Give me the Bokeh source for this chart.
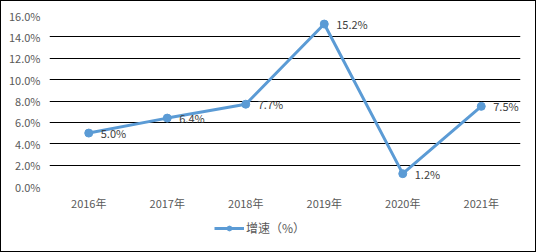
from bokeh.plotting import figure
from bokeh.layouts import column
from bokeh.models import Range1d, FactorRange, Legend, LegendItem, ColumnDataSource, LabelSet, FixedTicker, CustomJSTickFormatter
from bokeh.embed import file_html
from bokeh.resources import INLINE
from bokeh.core.properties import value

years = ["2016年", "2017年", "2018年", "2019年", "2020年", "2021年"]
growth = [5.0, 6.4, 7.7, 15.2, 1.2, 7.5]
y_ticks = [0, 2, 4, 6, 8, 10, 12, 14, 16]
series_name = "增速（%）"

FONT = "Noto Sans CJK SC"
COLOR = "#5B9BD5"

src = ColumnDataSource(dict(x=years, y=growth, lab=[f"{v:.1f}%" for v in growth]))

# main chart
p = figure(width=534, height=212, x_range=FactorRange(*years), y_range=Range1d(0, 16),
           output_backend="svg", toolbar_location=None,
           min_border_left=48, min_border_right=15, min_border_top=14, min_border_bottom=26)
p.outline_line_color = None
p.background_fill_color = "white"
p.border_fill_color = "white"

p.xgrid.grid_line_color = None
p.ygrid.grid_line_color = "#000000"
p.ygrid.grid_line_width = 1
p.yaxis.ticker = FixedTicker(ticks=y_ticks)
p.yaxis.formatter = CustomJSTickFormatter(code="return tick.toFixed(1) + '%';")
for ax in (p.xaxis, p.yaxis):
    ax.axis_line_color = None
    ax.major_tick_line_color = None
    ax.minor_tick_line_color = None
    ax.major_tick_out = 0
    ax.major_tick_in = 0
    ax.minor_tick_out = 0
    ax.major_label_text_font = FONT
    ax.major_label_text_font_size = "11px"
    ax.major_label_text_color = "#595959"
p.yaxis.major_label_standoff = 9
p.xaxis.major_label_standoff = 8

p.line("x", "y", source=src, line_color=COLOR, line_width=3)
p.scatter("x", "y", source=src, size=8, fill_color=COLOR, line_color=COLOR)

labels = LabelSet(x="x", y="y", text="lab", source=src, x_offset=12, y_offset=0,
                  text_font=value(FONT), text_font_size="11px", text_color="#404040",
                  text_baseline="middle", text_align="left")
p.add_layout(labels)

# legend strip (same series, drawn off-range so only the legend key shows)
q = figure(width=534, height=38, x_range=FactorRange(*years), y_range=Range1d(100, 101),
           output_backend="svg", toolbar_location=None, x_axis_type=None, y_axis_type=None,
           min_border_left=0, min_border_right=0, min_border_top=0, min_border_bottom=0)
q.outline_line_color = None
q.grid.visible = False
q.background_fill_color = "white"
q.border_fill_color = "white"
lq = q.line("x", "y", source=src, line_color=COLOR, line_width=3)
sq = q.scatter("x", "y", source=src, size=8, fill_color=COLOR, line_color=COLOR)
legend = Legend(items=[LegendItem(label=series_name, renderers=[lq, sq])],
                orientation="horizontal", location=(165, 15),
                label_text_font=FONT, label_text_font_size="12px", label_text_color="#595959",
                glyph_width=30, glyph_height=12, border_line_color=None, background_fill_alpha=0,
                padding=2, margin=0, label_standoff=2)
q.add_layout(legend, "center")

layout = column(p, q, spacing=0)
layout.styles = {"border": "1px solid #000000", "background-color": "white"}

open("out.html", "w").write(file_html(layout, INLINE))
